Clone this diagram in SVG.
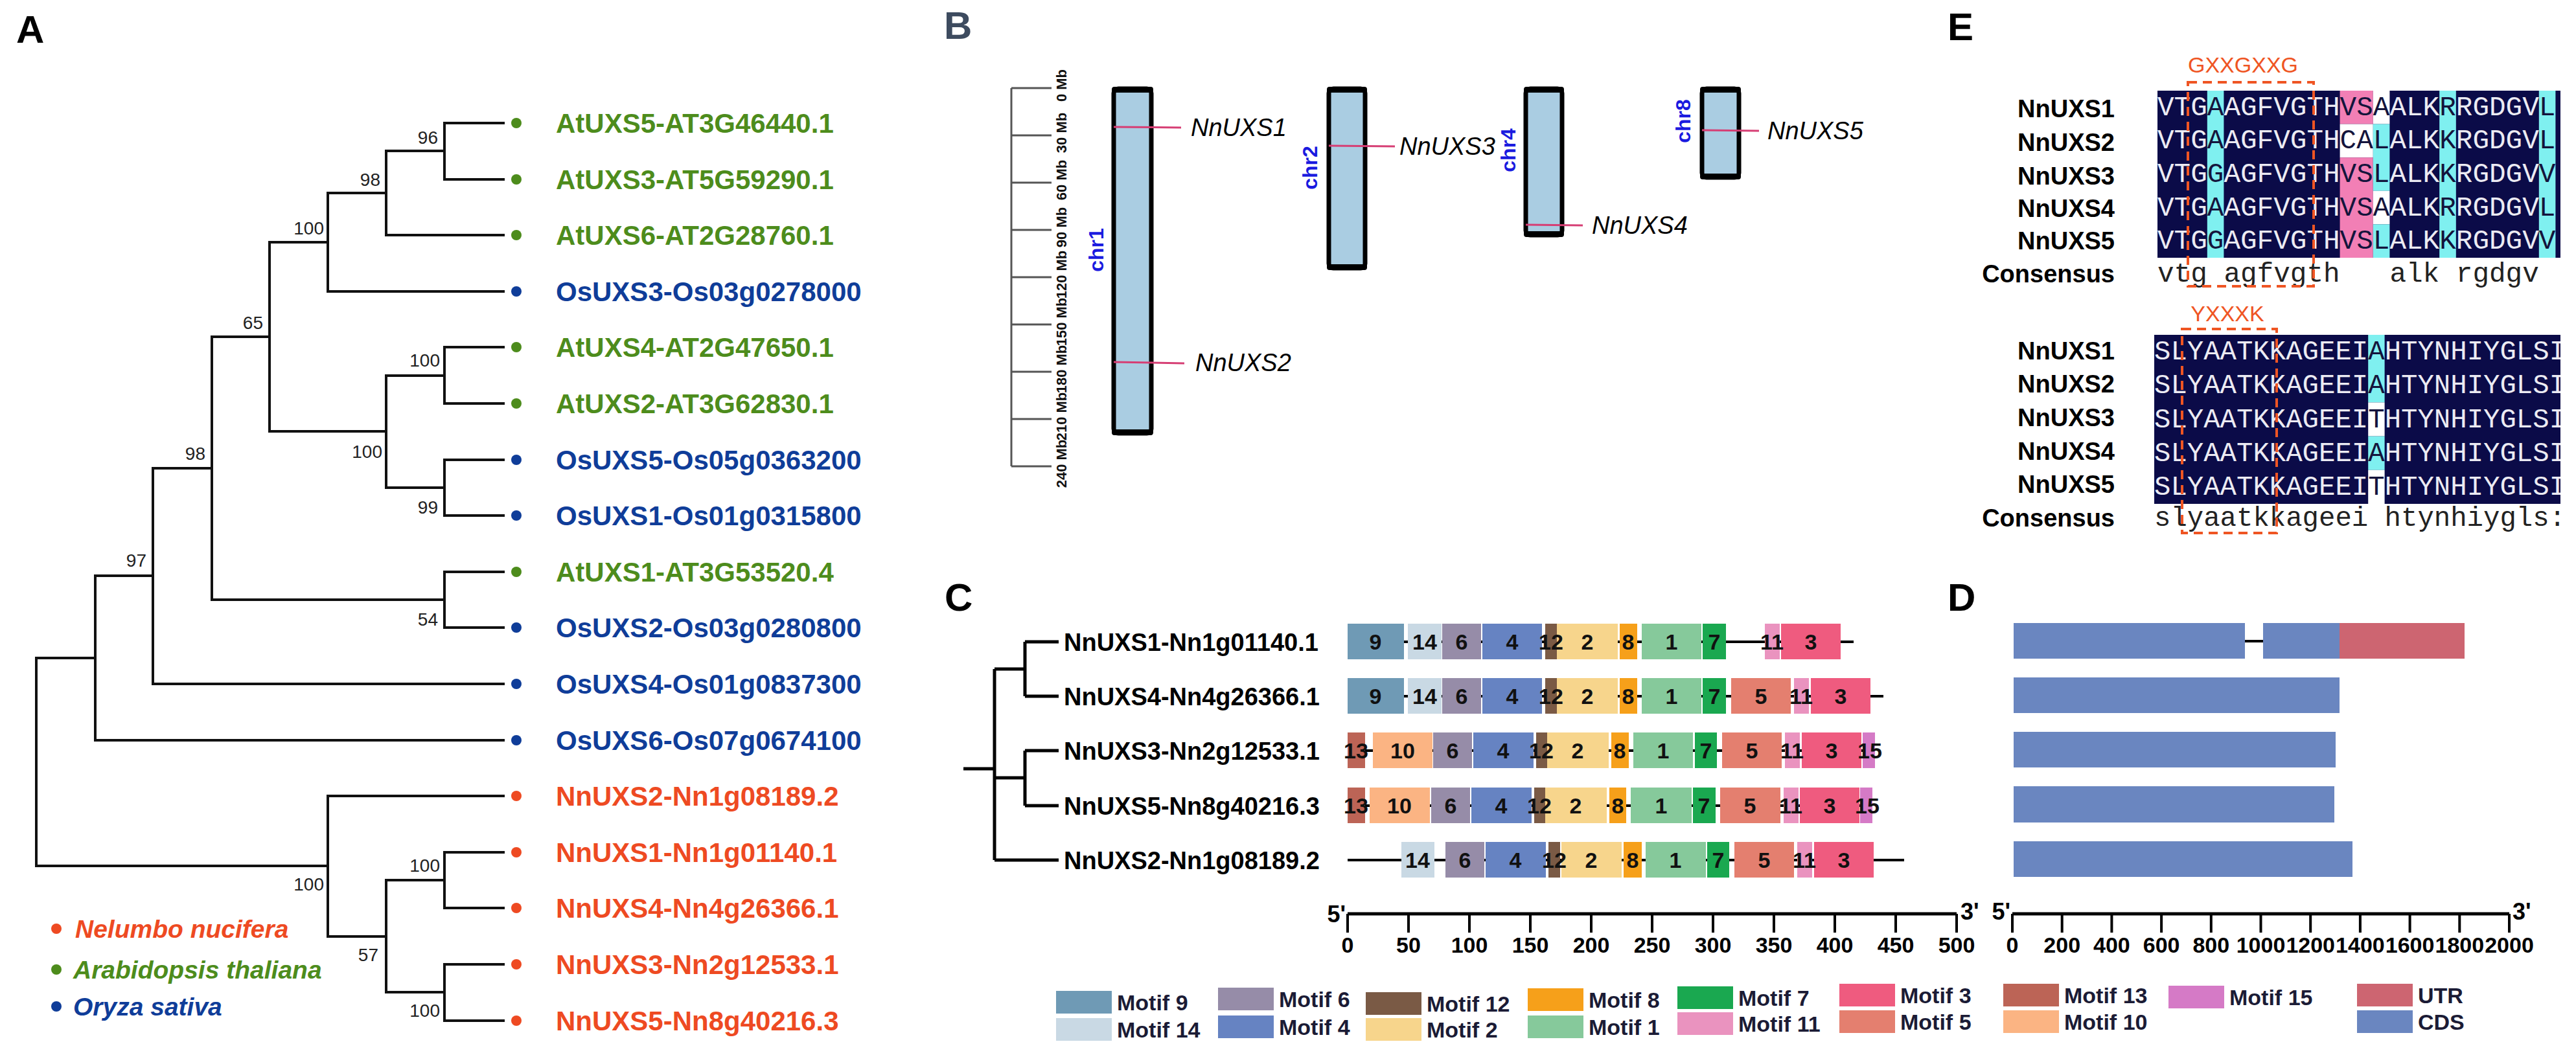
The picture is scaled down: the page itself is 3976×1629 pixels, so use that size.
<svg xmlns="http://www.w3.org/2000/svg" width="3976" height="1629" viewBox="0 0 3976 1629">
<defs>
<style>
text{font-family:"Liberation Sans",Arial,sans-serif}
.pl{font-size:60px;font-weight:bold;fill:#000}
.br{stroke:#111;stroke-width:4;fill:none;stroke-linecap:square}
.bs{font-size:28px;fill:#222;text-anchor:end}
.lf{font-size:42px;font-weight:bold}
.g{fill:#4d8c1c}.b{fill:#0f3d99}.r{fill:#ee4a22}
.lg{font-size:39px;font-weight:bold;font-style:italic}
.chr{fill:#aacde2;stroke:#000;stroke-width:7}
.cap{fill:#000}
.gl{stroke:#d63e74;stroke-width:3}
.gn{font-size:38px;font-style:italic;fill:#000}
.cl{font-size:32px;font-weight:bold;fill:#1a1adf;text-anchor:middle}
.rt{stroke:#555;stroke-width:3;fill:none}
.rl{font-size:22px;font-weight:bold;fill:#111;text-anchor:middle}
.ct{stroke:#000;stroke-width:5;fill:none}
.cn{font-size:38px;font-weight:bold;fill:#000}
.bb{stroke:#000;stroke-width:4}
.mt{font-size:34px;font-weight:bold;fill:#111;text-anchor:middle}
.m1{fill:#86c99b}.m2{fill:#f7d58c}.m3{fill:#ef5b7f}.m4{fill:#6683c2}.m5{fill:#e47f6f}
.m6{fill:#968ca8}.m7{fill:#1aa850}.m8{fill:#f6a01a}.m9{fill:#6f9ab5}.m10{fill:#fbb483}
.m11{fill:#ea93bf}.m12{fill:#7a5a45}.m13{fill:#bc6456}.m14{fill:#c9d9e4}.m15{fill:#d57ac6}
.utr{fill:#cd6571}.cds{fill:#6a86c0}
.ax{stroke:#000;stroke-width:5;fill:none}
.tk{stroke:#000;stroke-width:4}
.tl{font-size:34px;font-weight:bold;fill:#000;text-anchor:middle}
.pr{font-size:36px;font-weight:bold;fill:#000}
.lt{font-size:34px;font-weight:bold;fill:#1b1b35}
.el{font-size:38px;font-weight:bold;fill:#000;text-anchor:end}
.sq{font-family:"Liberation Mono","Courier New",monospace;fill:#ecebf3}
.dk{fill:#14143c}
.cs{font-family:"Liberation Mono","Courier New",monospace;fill:#222}
.nv{fill:#0b0b48}.cy{fill:#7ff0f0}.pk{fill:#f27fb5}.wh{fill:#fff}
.db{fill:none;stroke:#ef5523;stroke-width:4;stroke-dasharray:14 9}
.mo{font-size:34px;fill:#ef5523;text-anchor:middle}
</style>
<clipPath id="eclip"><rect x="3000" y="0" width="952" height="900"/></clipPath>
</defs>
<rect width="3976" height="1629" fill="#fff"/>

<g id="panel-labels">
<text class="pl" x="25" y="66">A</text>
<text class="pl" x="1457" y="60" style="fill:#3d4b5f">B</text>
<text class="pl" x="3006" y="62">E</text>
<text class="pl" x="1458" y="943">C</text>
<text class="pl" x="3006" y="943">D</text>
</g>

<g id="tree-a-connectors" class="br">
<path d="M686,190H777M686,277H777M596,363H777M506,450H777M686,536H777M686,623H777M686,710H777M686,796H777M686,883H777M686,969H777M236,1056H777M147,1143H777M506,1229H777M686,1316H777M686,1402H777M686,1489H777M686,1576H777"/>
<path d="M686,190V277M596,233V363M506,298V450M686,536V623M686,710V796M596,580V753M416,374V666M686,883V969M327,520V926M236,723V1056M147,889V1143M56,1016V1337M506,1229V1446M596,1359V1532M686,1316V1402M686,1489V1576"/>
<path d="M596,233H686M506,298H596M416,374H506M596,580H686M596,753H686M416,666H596M327,520H416M327,926H686M236,723H327M147,889H236M56,1016H147M56,1337H506M596,1359H686M596,1532H686M506,1446H596"/>
</g>

<g id="tree-a-bootstrap">
<text class="bs" x="676" y="222">96</text>
<text class="bs" x="587" y="287">98</text>
<text class="bs" x="500" y="362">100</text>
<text class="bs" x="406" y="508">65</text>
<text class="bs" x="679" y="566">100</text>
<text class="bs" x="590" y="707">100</text>
<text class="bs" x="676" y="793">99</text>
<text class="bs" x="317" y="710">98</text>
<text class="bs" x="226" y="875">97</text>
<text class="bs" x="676" y="966">54</text>
<text class="bs" x="500" y="1375">100</text>
<text class="bs" x="584" y="1484">57</text>
<text class="bs" x="679" y="1346">100</text>
<text class="bs" x="679" y="1570">100</text>
</g>

<g id="tree-a-leaves">
<g id="leaf-AtUXS5"><circle class="g" cx="797" cy="190" r="8"/><text class="lf g" x="858" y="205">AtUXS5-AT3G46440.1</text></g>
<g id="leaf-AtUXS3"><circle class="g" cx="797" cy="277" r="8"/><text class="lf g" x="858" y="292">AtUXS3-AT5G59290.1</text></g>
<g id="leaf-AtUXS6"><circle class="g" cx="797" cy="363" r="8"/><text class="lf g" x="858" y="378">AtUXS6-AT2G28760.1</text></g>
<g id="leaf-OsUXS3"><circle class="b" cx="797" cy="450" r="8"/><text class="lf b" x="858" y="465">OsUXS3-Os03g0278000</text></g>
<g id="leaf-AtUXS4"><circle class="g" cx="797" cy="536" r="8"/><text class="lf g" x="858" y="551">AtUXS4-AT2G47650.1</text></g>
<g id="leaf-AtUXS2"><circle class="g" cx="797" cy="623" r="8"/><text class="lf g" x="858" y="638">AtUXS2-AT3G62830.1</text></g>
<g id="leaf-OsUXS5"><circle class="b" cx="797" cy="710" r="8"/><text class="lf b" x="858" y="725">OsUXS5-Os05g0363200</text></g>
<g id="leaf-OsUXS1"><circle class="b" cx="797" cy="796" r="8"/><text class="lf b" x="858" y="811">OsUXS1-Os01g0315800</text></g>
<g id="leaf-AtUXS1"><circle class="g" cx="797" cy="883" r="8"/><text class="lf g" x="858" y="898">AtUXS1-AT3G53520.4</text></g>
<g id="leaf-OsUXS2"><circle class="b" cx="797" cy="969" r="8"/><text class="lf b" x="858" y="984">OsUXS2-Os03g0280800</text></g>
<g id="leaf-OsUXS4"><circle class="b" cx="797" cy="1056" r="8"/><text class="lf b" x="858" y="1071">OsUXS4-Os01g0837300</text></g>
<g id="leaf-OsUXS6"><circle class="b" cx="797" cy="1143" r="8"/><text class="lf b" x="858" y="1158">OsUXS6-Os07g0674100</text></g>
<g id="leaf-NnUXS2"><circle class="r" cx="797" cy="1229" r="8"/><text class="lf r" x="858" y="1244">NnUXS2-Nn1g08189.2</text></g>
<g id="leaf-NnUXS1"><circle class="r" cx="797" cy="1316" r="8"/><text class="lf r" x="858" y="1331">NnUXS1-Nn1g01140.1</text></g>
<g id="leaf-NnUXS4"><circle class="r" cx="797" cy="1402" r="8"/><text class="lf r" x="858" y="1417">NnUXS4-Nn4g26366.1</text></g>
<g id="leaf-NnUXS3"><circle class="r" cx="797" cy="1489" r="8"/><text class="lf r" x="858" y="1504">NnUXS3-Nn2g12533.1</text></g>
<g id="leaf-NnUXS5"><circle class="r" cx="797" cy="1576" r="8"/><text class="lf r" x="858" y="1591">NnUXS5-Nn8g40216.3</text></g>
</g>

<g id="legend-a">
<circle class="r" cx="87" cy="1434" r="8"/><text class="lg r" x="116" y="1448">Nelumbo nucifera</text>
<circle class="g" cx="87" cy="1497" r="8"/><text class="lg g" x="113" y="1511">Arabidopsis thaliana</text>
<circle class="b" cx="87" cy="1554" r="8"/><text class="lg b" x="113" y="1568">Oryza sativa</text>
</g>

<g id="ruler-b">
<path class="rt" d="M1561,136V720M1561,136H1623M1561,209H1623M1561,282H1623M1561,355H1623M1561,428H1623M1561,501H1623M1561,574H1623M1561,647H1623M1561,720H1623"/>
<text class="rl" transform="translate(1646,132) rotate(-90)">0 Mb</text>
<text class="rl" transform="translate(1646,205) rotate(-90)">30 Mb</text>
<text class="rl" transform="translate(1646,278) rotate(-90)">60 Mb</text>
<text class="rl" transform="translate(1646,351) rotate(-90)">90 Mb</text>
<text class="rl" transform="translate(1646,424) rotate(-90)">120 Mb</text>
<text class="rl" transform="translate(1646,497) rotate(-90)">150 Mb</text>
<text class="rl" transform="translate(1646,570) rotate(-90)">180 Mb</text>
<text class="rl" transform="translate(1646,643) rotate(-90)">210 Mb</text>
<text class="rl" transform="translate(1646,716) rotate(-90)">240 Mb</text>
</g>
<g id="chr1"><rect class="chr" x="1719" y="137" width="58" height="532" rx="7"/><rect class="cap" x="1716" y="134" width="64" height="9" rx="4"/><rect class="cap" x="1716" y="663" width="64" height="9" rx="4"/>
<text class="cl" transform="translate(1703,386) rotate(-90)">chr1</text></g>
<g id="chr2"><rect class="chr" x="2051" y="137" width="56" height="277" rx="7"/><rect class="cap" x="2048" y="134" width="62" height="9" rx="4"/><rect class="cap" x="2048" y="408" width="62" height="9" rx="4"/>
<text class="cl" transform="translate(2033,259) rotate(-90)">chr2</text></g>
<g id="chr4"><rect class="chr" x="2355" y="137" width="56" height="226" rx="7"/><rect class="cap" x="2352" y="134" width="62" height="9" rx="4"/><rect class="cap" x="2352" y="357" width="62" height="9" rx="4"/>
<text class="cl" transform="translate(2339,232) rotate(-90)">chr4</text></g>
<g id="chr8"><rect class="chr" x="2627" y="137" width="57" height="137" rx="7"/><rect class="cap" x="2624" y="134" width="63" height="9" rx="4"/><rect class="cap" x="2624" y="268" width="63" height="9" rx="4"/>
<text class="cl" transform="translate(2609,187) rotate(-90)">chr8</text></g>
<g id="genes-b">
<line class="gl" x1="1719" y1="196" x2="1823" y2="197"/><text class="gn" x="1838" y="210">NnUXS1</text>
<line class="gl" x1="1719" y1="559" x2="1828" y2="561"/><text class="gn" x="1845" y="573">NnUXS2</text>
<line class="gl" x1="2051" y1="225" x2="2153" y2="226"/><text class="gn" x="2160" y="239">NnUXS3</text>
<line class="gl" x1="2355" y1="347" x2="2443" y2="348"/><text class="gn" x="2457" y="361">NnUXS4</text>
<line class="gl" x1="2627" y1="201" x2="2715" y2="202"/><text class="gn" x="2728" y="215">NnUXS5</text>
</g>

<g id="tree-c-connectors" class="ct">
<path d="M1582,991H1634M1582,1075H1634M1582,1159H1634M1582,1244H1634M1535,1328H1634M1582,991V1075M1582,1159V1244M1535,1033H1582M1535,1201H1582M1535,1033V1328M1487,1187H1535"/>
</g>
<g id="c-labels">
<text class="cn" x="1642" y="1005">NnUXS1-Nn1g01140.1</text>
<text class="cn" x="1642" y="1089">NnUXS4-Nn4g26366.1</text>
<text class="cn" x="1642" y="1173">NnUXS3-Nn2g12533.1</text>
<text class="cn" x="1642" y="1258">NnUXS5-Nn8g40216.3</text>
<text class="cn" x="1642" y="1342">NnUXS2-Nn1g08189.2</text>
</g>

<g id="motifs-row1">
<line class="bb" x1="2080" y1="991" x2="2861" y2="991"/>
<rect class="m9" x="2080" y="963" width="87" height="55"/><rect class="m14" x="2173" y="963" width="52" height="55"/><rect class="m6" x="2226" y="963" width="60" height="55"/><rect class="m4" x="2288" y="963" width="92" height="55"/><rect class="m12" x="2385" y="963" width="18" height="55"/><rect class="m2" x="2403" y="963" width="94" height="55"/><rect class="m8" x="2500" y="963" width="27" height="55"/><rect class="m1" x="2534" y="963" width="92" height="55"/><rect class="m7" x="2628" y="963" width="36" height="55"/><rect class="m11" x="2724" y="963" width="23" height="55"/><rect class="m3" x="2749" y="963" width="92" height="55"/>
<text class="mt" y="1003"><tspan x="2123">9</tspan><tspan x="2199">14</tspan><tspan x="2256">6</tspan><tspan x="2334">4</tspan><tspan x="2394">12</tspan><tspan x="2450">2</tspan><tspan x="2513">8</tspan><tspan x="2580">1</tspan><tspan x="2646">7</tspan><tspan x="2735">11</tspan><tspan x="2795">3</tspan></text>
</g>
<g id="motifs-row2">
<line class="bb" x1="2080" y1="1075" x2="2907" y2="1075"/>
<rect class="m9" x="2080" y="1047" width="87" height="55"/><rect class="m14" x="2173" y="1047" width="52" height="55"/><rect class="m6" x="2226" y="1047" width="60" height="55"/><rect class="m4" x="2288" y="1047" width="92" height="55"/><rect class="m12" x="2385" y="1047" width="18" height="55"/><rect class="m2" x="2403" y="1047" width="94" height="55"/><rect class="m8" x="2500" y="1047" width="27" height="55"/><rect class="m1" x="2534" y="1047" width="92" height="55"/><rect class="m7" x="2628" y="1047" width="36" height="55"/><rect class="m5" x="2672" y="1047" width="92" height="55"/><rect class="m11" x="2769" y="1047" width="23" height="55"/><rect class="m3" x="2795" y="1047" width="92" height="55"/>
<text class="mt" y="1087"><tspan x="2123">9</tspan><tspan x="2199">14</tspan><tspan x="2256">6</tspan><tspan x="2334">4</tspan><tspan x="2394">12</tspan><tspan x="2450">2</tspan><tspan x="2513">8</tspan><tspan x="2580">1</tspan><tspan x="2646">7</tspan><tspan x="2718">5</tspan><tspan x="2780">11</tspan><tspan x="2841">3</tspan></text>
</g>
<g id="motifs-row3">
<line class="bb" x1="2080" y1="1159" x2="2894" y2="1159"/>
<rect class="m13" x="2080" y="1131" width="27" height="55"/><rect class="m10" x="2119" y="1131" width="92" height="55"/><rect class="m6" x="2212" y="1131" width="60" height="55"/><rect class="m4" x="2274" y="1131" width="93" height="55"/><rect class="m12" x="2371" y="1131" width="17" height="55"/><rect class="m2" x="2388" y="1131" width="95" height="55"/><rect class="m8" x="2487" y="1131" width="27" height="55"/><rect class="m1" x="2521" y="1131" width="92" height="55"/><rect class="m7" x="2616" y="1131" width="34" height="55"/><rect class="m5" x="2658" y="1131" width="92" height="55"/><rect class="m11" x="2755" y="1131" width="23" height="55"/><rect class="m3" x="2781" y="1131" width="92" height="55"/><rect class="m15" x="2875" y="1131" width="19" height="55"/>
<text class="mt" y="1171"><tspan x="2093">13</tspan><tspan x="2165">10</tspan><tspan x="2242">6</tspan><tspan x="2320">4</tspan><tspan x="2379">12</tspan><tspan x="2435">2</tspan><tspan x="2500">8</tspan><tspan x="2567">1</tspan><tspan x="2633">7</tspan><tspan x="2704">5</tspan><tspan x="2766">11</tspan><tspan x="2827">3</tspan><tspan x="2886">15</tspan></text>
</g>
<g id="motifs-row4">
<line class="bb" x1="2080" y1="1244" x2="2890" y2="1244"/>
<rect class="m13" x="2080" y="1216" width="27" height="55"/><rect class="m10" x="2114" y="1216" width="93" height="55"/><rect class="m6" x="2209" y="1216" width="60" height="55"/><rect class="m4" x="2271" y="1216" width="93" height="55"/><rect class="m12" x="2368" y="1216" width="17" height="55"/><rect class="m2" x="2385" y="1216" width="95" height="55"/><rect class="m8" x="2484" y="1216" width="26" height="55"/><rect class="m1" x="2517" y="1216" width="94" height="55"/><rect class="m7" x="2613" y="1216" width="35" height="55"/><rect class="m5" x="2655" y="1216" width="93" height="55"/><rect class="m11" x="2753" y="1216" width="23" height="55"/><rect class="m3" x="2778" y="1216" width="92" height="55"/><rect class="m15" x="2871" y="1216" width="19" height="55"/>
<text class="mt" y="1256"><tspan x="2093">13</tspan><tspan x="2160">10</tspan><tspan x="2239">6</tspan><tspan x="2317">4</tspan><tspan x="2376">12</tspan><tspan x="2432">2</tspan><tspan x="2497">8</tspan><tspan x="2564">1</tspan><tspan x="2630">7</tspan><tspan x="2701">5</tspan><tspan x="2764">11</tspan><tspan x="2824">3</tspan><tspan x="2882">15</tspan></text>
</g>
<g id="motifs-row5">
<line class="bb" x1="2080" y1="1328" x2="2939" y2="1328"/>
<rect class="m14" x="2163" y="1300" width="51" height="55"/><rect class="m6" x="2231" y="1300" width="60" height="55"/><rect class="m4" x="2293" y="1300" width="93" height="55"/><rect class="m12" x="2390" y="1300" width="18" height="55"/><rect class="m2" x="2410" y="1300" width="93" height="55"/><rect class="m8" x="2506" y="1300" width="28" height="55"/><rect class="m1" x="2540" y="1300" width="93" height="55"/><rect class="m7" x="2635" y="1300" width="34" height="55"/><rect class="m5" x="2677" y="1300" width="92" height="55"/><rect class="m11" x="2774" y="1300" width="23" height="55"/><rect class="m3" x="2800" y="1300" width="92" height="55"/>
<text class="mt" y="1340"><tspan x="2188">14</tspan><tspan x="2261">6</tspan><tspan x="2339">4</tspan><tspan x="2399">12</tspan><tspan x="2456">2</tspan><tspan x="2520">8</tspan><tspan x="2586">1</tspan><tspan x="2652">7</tspan><tspan x="2723">5</tspan><tspan x="2785">11</tspan><tspan x="2846">3</tspan></text>
</g>

<g id="axis-c">
<path class="ax" d="M2080,1411H3020"/>
<path class="tk" d="M2080,1411V1440M2174,1411V1440M2268,1411V1440M2362,1411V1440M2456,1411V1440M2550,1411V1440M2644,1411V1440M2738,1411V1440M2832,1411V1440M2926,1411V1440M3020,1411V1440"/>
<text class="pr" x="2077" y="1424" text-anchor="end">5'</text>
<text class="pr" x="3026" y="1420">3'</text>
<text class="tl" y="1471"><tspan x="2080">0</tspan><tspan x="2174">50</tspan><tspan x="2268">100</tspan><tspan x="2362">150</tspan><tspan x="2456">200</tspan><tspan x="2550">250</tspan><tspan x="2644">300</tspan><tspan x="2738">350</tspan><tspan x="2832">400</tspan><tspan x="2926">450</tspan><tspan x="3020">500</tspan></text>
</g>

<g id="gene-d1"><line class="bb" x1="3465" y1="990" x2="3493" y2="990"/><rect class="cds" x="3108" y="962" width="357" height="55"/><rect class="cds" x="3493" y="962" width="118" height="55"/><rect class="utr" x="3611" y="962" width="193" height="55"/></g>
<g id="gene-d2"><rect class="cds" x="3108" y="1046" width="503" height="55"/></g>
<g id="gene-d3"><rect class="cds" x="3108" y="1130" width="497" height="55"/></g>
<g id="gene-d4"><rect class="cds" x="3108" y="1214" width="495" height="56"/></g>
<g id="gene-d5"><rect class="cds" x="3108" y="1299" width="523" height="55"/></g>
<g id="axis-d">
<path class="ax" d="M3106,1411H3873"/>
<path class="tk" d="M3106,1411V1440M3182.7,1411V1440M3259.4,1411V1440M3336.1,1411V1440M3412.8,1411V1440M3489.5,1411V1440M3566.2,1411V1440M3642.9,1411V1440M3719.6,1411V1440M3796.3,1411V1440M3873,1411V1440"/>
<text class="pr" x="3103" y="1420" text-anchor="end">5'</text>
<text class="pr" x="3878" y="1420">3'</text>
<text class="tl" y="1471"><tspan x="3106">0</tspan><tspan x="3182.7">200</tspan><tspan x="3259.4">400</tspan><tspan x="3336.1">600</tspan><tspan x="3412.8">800</tspan><tspan x="3489.5">1000</tspan><tspan x="3566.2">1200</tspan><tspan x="3642.9">1400</tspan><tspan x="3719.6">1600</tspan><tspan x="3796.3">1800</tspan><tspan x="3873">2000</tspan></text>
</g>

<g id="legend-motifs">
<rect class="m9" x="1630" y="1530" width="86" height="35"/><text class="lt" x="1724" y="1560">Motif 9</text>
<rect class="m14" x="1630" y="1572" width="86" height="35"/><text class="lt" x="1724" y="1602">Motif 14</text>
<rect class="m6" x="1880" y="1525" width="86" height="35"/><text class="lt" x="1974" y="1555">Motif 6</text>
<rect class="m4" x="1880" y="1568" width="86" height="35"/><text class="lt" x="1974" y="1598">Motif 4</text>
<rect class="m12" x="2108" y="1532" width="86" height="35"/><text class="lt" x="2202" y="1562">Motif 12</text>
<rect class="m2" x="2108" y="1572" width="86" height="35"/><text class="lt" x="2202" y="1602">Motif 2</text>
<rect class="m8" x="2358" y="1526" width="86" height="35"/><text class="lt" x="2452" y="1556">Motif 8</text>
<rect class="m1" x="2358" y="1568" width="86" height="35"/><text class="lt" x="2452" y="1598">Motif 1</text>
<rect class="m7" x="2589" y="1523" width="86" height="35"/><text class="lt" x="2683" y="1553">Motif 7</text>
<rect class="m11" x="2589" y="1563" width="86" height="35"/><text class="lt" x="2683" y="1593">Motif 11</text>
<rect class="m3" x="2839" y="1519" width="86" height="35"/><text class="lt" x="2933" y="1549">Motif 3</text>
<rect class="m5" x="2839" y="1560" width="86" height="35"/><text class="lt" x="2933" y="1590">Motif 5</text>
<rect class="m13" x="3092" y="1519" width="86" height="35"/><text class="lt" x="3186" y="1549">Motif 13</text>
<rect class="m10" x="3092" y="1560" width="86" height="35"/><text class="lt" x="3186" y="1590">Motif 10</text>
<rect class="m15" x="3347" y="1522" width="86" height="35"/><text class="lt" x="3441" y="1552">Motif 15</text>
<rect class="utr" x="3638" y="1519" width="86" height="35"/><text class="lt" x="3732" y="1549">UTR</text>
<rect class="cds" x="3638" y="1560" width="86" height="35"/><text class="lt" x="3732" y="1590">CDS</text>
</g>

<g id="align-top">
<text class="el" x="3264" y="181">NnUXS1</text>
<text class="el" x="3264" y="233">NnUXS2</text>
<text class="el" x="3264" y="285">NnUXS3</text>
<text class="el" x="3264" y="335">NnUXS4</text>
<text class="el" x="3264" y="385">NnUXS5</text>
<text class="el" x="3264" y="436">Consensus</text>
<g clip-path="url(#eclip)">
<rect class="nv" x="3330" y="140" width="630" height="258"/>
<rect class="cy" x="3406.8" y="140" width="25.6" height="258"/>
<rect class="cy" x="3765.2" y="140" width="25.6" height="258"/>
<rect class="cy" x="3918.8" y="140" width="25.6" height="258"/>
<rect class="pk" x="3611.6" y="140" width="51.2" height="51.6"/>
<rect class="wh" x="3611.6" y="191.6" width="51.2" height="51.6"/>
<rect class="pk" x="3611.6" y="243.2" width="51.2" height="154.8"/>
<rect class="wh" x="3662.8" y="140" width="25.6" height="51.6"/>
<rect class="cy" x="3662.8" y="191.6" width="25.6" height="103.2"/>
<rect class="wh" x="3662.8" y="294.8" width="25.6" height="51.6"/>
<rect class="cy" x="3662.8" y="346.4" width="25.6" height="51.6"/>
<g font-size="42.67">
<text class="sq" x="3330" y="178">VTG<tspan class="dk">A</tspan>AGFVGTH<tspan class="dk">VSA</tspan>ALK<tspan class="dk">R</tspan>RGDGV<tspan class="dk">L</tspan></text>
<text class="sq" x="3330" y="229">VTG<tspan class="dk">A</tspan>AGFVGTH<tspan class="dk">CAL</tspan>ALK<tspan class="dk">K</tspan>RGDGV<tspan class="dk">L</tspan></text>
<text class="sq" x="3330" y="281">VTG<tspan class="dk">G</tspan>AGFVGTH<tspan class="dk">VSL</tspan>ALK<tspan class="dk">K</tspan>RGDGV<tspan class="dk">V</tspan></text>
<text class="sq" x="3330" y="333">VTG<tspan class="dk">A</tspan>AGFVGTH<tspan class="dk">VSA</tspan>ALK<tspan class="dk">R</tspan>RGDGV<tspan class="dk">L</tspan></text>
<text class="sq" x="3330" y="384">VTG<tspan class="dk">G</tspan>AGFVGTH<tspan class="dk">VSL</tspan>ALK<tspan class="dk">K</tspan>RGDGV<tspan class="dk">V</tspan></text>
<text class="cs" x="3330" y="435">vtg</text>
<text class="cs" x="3432.4" y="435">agfvgth</text>
<text class="cs" x="3688.4" y="435">alk</text>
<text class="cs" x="3790.8" y="435">rgdgv</text>
</g>
</g>
<rect class="db" x="3377" y="127" width="194" height="315"/>
<text class="mo" x="3462" y="112">GXXGXXG</text>
</g>

<g id="align-bottom">
<text class="el" x="3264" y="555">NnUXS1</text>
<text class="el" x="3264" y="606">NnUXS2</text>
<text class="el" x="3264" y="658">NnUXS3</text>
<text class="el" x="3264" y="710">NnUXS4</text>
<text class="el" x="3264" y="761">NnUXS5</text>
<text class="el" x="3264" y="813">Consensus</text>
<g clip-path="url(#eclip)">
<rect class="nv" x="3325" y="517" width="635" height="261"/>
<rect class="cy" x="3655.2" y="517" width="25.4" height="104.4"/>
<rect class="wh" x="3655.2" y="621.4" width="25.4" height="52.2"/>
<rect class="cy" x="3655.2" y="673.6" width="25.4" height="52.2"/>
<rect class="wh" x="3655.2" y="725.8" width="25.4" height="52.2"/>
<g font-size="42.33">
<text class="sq" x="3325" y="555">SLYAATKKAGEEI<tspan class="dk">A</tspan>HTYNHIYGLSI</text>
<text class="sq" x="3325" y="607">SLYAATKKAGEEI<tspan class="dk">A</tspan>HTYNHIYGLSI</text>
<text class="sq" x="3325" y="660">SLYAATKKAGEEI<tspan class="dk">T</tspan>HTYNHIYGLSI</text>
<text class="sq" x="3325" y="712">SLYAATKKAGEEI<tspan class="dk">A</tspan>HTYNHIYGLSI</text>
<text class="sq" x="3325" y="764">SLYAATKKAGEEI<tspan class="dk">T</tspan>HTYNHIYGLSI</text>
<text class="cs" x="3325" y="812">slyaatkkageei</text>
<text class="cs" x="3680.6" y="812">htynhiygls:</text>
</g>
</g>
<rect class="db" x="3368" y="508" width="146" height="315"/>
<text class="mo" x="3438" y="496">YXXXK</text>
</g>
</svg>
